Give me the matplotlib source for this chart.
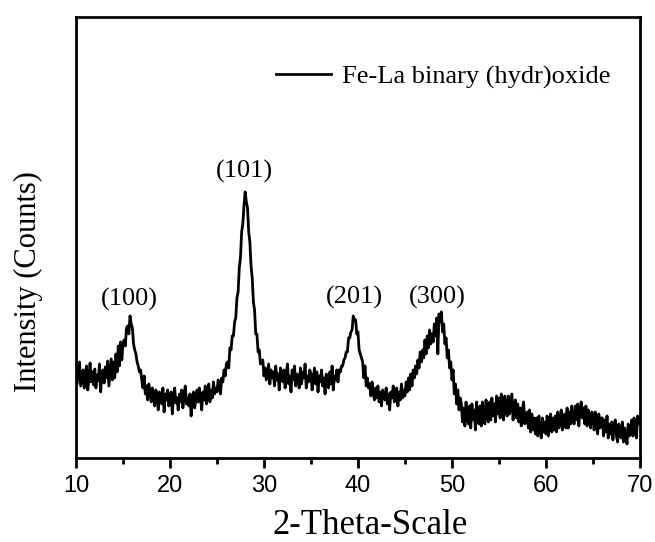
import numpy as np
import matplotlib
matplotlib.use("Agg")
import matplotlib.pyplot as plt

# 2-theta grid, 0.125 degree steps from 10 to 70
two_theta = np.arange(10, 70.001, 0.125)

# intensity (arbitrary counts), 8 values per degree
intensity = [
    90, 74, 85, 96, 72, 80, 88, 70,          # 10
    84, 92, 68, 79, 95, 76, 86, 73,          # 11
    89, 70, 83, 77, 94, 66, 82, 88,          # 12
    75, 91, 80, 97, 72, 86, 99, 78,          # 13
    96, 80, 104, 86, 112, 92, 116, 98,       # 14
    114, 118, 112, 130, 132, 124, 142, 134,  # 15
    130, 114, 108, 104, 96, 92, 86, 88,      # 16
    78, 70, 82, 64, 72, 58, 74, 66,          # 17
    56, 70, 60, 52, 68, 63, 48, 66,          # 18
    62, 54, 70, 46, 64, 58, 68, 52,          # 19
    57, 66, 44, 62, 70, 55, 60, 48,          # 20
    64, 56, 68, 50, 62, 72, 54, 60,          # 21
    52, 64, 42, 60, 66, 50, 58, 68,          # 22
    56, 70, 60, 48, 66, 58, 72, 54,          # 23
    62, 74, 56, 68, 60, 76, 64, 70,          # 24
    66, 78, 72, 64, 80, 76, 88, 82,          # 25
    94, 96, 90, 110, 108, 122, 122, 136,     # 26
    140, 160, 166, 190, 200, 226, 234, 252,  # 27
    266, 256, 250, 226, 216, 192, 180, 156,  # 28
    148, 124, 124, 106, 108, 94, 96, 98,     # 29
    82, 90, 78, 86, 94, 74, 88, 80,          # 30
    86, 72, 92, 78, 84, 68, 90, 80,          # 31
    76, 88, 70, 84, 94, 74, 82, 66,          # 32
    88, 78, 92, 72, 84, 80, 70, 90,          # 33
    74, 86, 80, 94, 70, 82, 76, 88,          # 34
    84, 68, 80, 90, 74, 86, 66, 82,          # 35
    76, 88, 72, 80, 64, 84, 78, 70,          # 36
    86, 74, 92, 68, 82, 78, 88, 76,          # 37
    88, 86, 92, 92, 98, 100, 106, 106,       # 38
    120, 120, 126, 128, 142, 138, 138, 124,  # 39
    126, 108, 104, 100, 96, 80, 92, 72,      # 40
    80, 70, 74, 62, 76, 66, 58, 70,          # 41
    60, 72, 56, 66, 52, 68, 62, 58,          # 42
    70, 54, 64, 48, 66, 60, 72, 56,          # 43
    62, 70, 52, 66, 58, 74, 60, 68,          # 44
    62, 76, 66, 80, 68, 84, 72, 88,          # 45
    80, 92, 84, 98, 90, 106, 96, 108,        # 46
    100, 118, 104, 122, 110, 128, 114, 124,  # 47
    116, 134, 122, 140, 104, 144, 136, 146,  # 48
    126, 134, 114, 120, 100, 108, 90, 96,    # 49
    78, 88, 64, 74, 54, 68, 48, 60,          # 50
    54, 36, 50, 32, 56, 40, 34, 52,          # 51
    30, 54, 38, 48, 28, 56, 40, 34,          # 52
    52, 32, 56, 40, 34, 58, 42, 36,          # 53
    56, 38, 60, 42, 54, 36, 62, 44,          # 54
    60, 40, 64, 46, 38, 62, 50, 42,          # 55
    62, 44, 54, 64, 38, 52, 58, 40,          # 56
    54, 36, 50, 32, 48, 56, 34, 42,          # 57
    46, 30, 48, 26, 44, 28, 40, 24,          # 58
    40, 22, 42, 28, 20, 40, 26, 36,          # 59
    24, 42, 22, 36, 44, 26, 40, 28,          # 60
    42, 26, 46, 30, 38, 48, 28, 40,          # 61
    44, 30, 50, 30, 46, 34, 52, 38,          # 62
    34, 52, 38, 54, 32, 48, 56, 40,          # 63
    50, 34, 52, 32, 48, 40, 30, 46,          # 64
    44, 28, 46, 32, 24, 44, 30, 40,          # 65
    40, 22, 38, 26, 42, 20, 34, 24,          # 66
    36, 18, 32, 38, 22, 16, 34, 26,          # 67
    20, 36, 16, 30, 24, 14, 34, 22,          # 68
    26, 38, 22, 40, 28, 20, 42, 34,          # 69
    40,                                      # 70
]

peak_labels = ["(100)", "(101)", "(201)", "(300)"]
peak_pos = [15.7, 27.9, 39.6, 48.4]
peak_top = [138, 266, 140, 140]

serif = "Liberation Serif"
sans = "Liberation Sans"

fig = plt.figure(figsize=(6.55, 5.42), dpi=100)
ax = fig.add_axes([0.116, 0.155, 0.861, 0.814])

ax.plot(two_theta, intensity, color="black", lw=2.0,
        label="Fe-La binary (hydr)oxide")

for lab, x, y in zip(peak_labels, peak_pos, peak_top):
    ax.text(x, y + 20, lab, ha="center", va="center",
            fontsize=19, family=serif)

ax.set_xlim(10, 70)
ax.set_ylim(0, 441)
ax.set_xticks(range(10, 71, 10))
ax.set_xticks(range(15, 70, 10), minor=True)
ax.set_yticks([])
ax.tick_params(axis="x", which="major", length=7, width=2, labelsize=17,
               pad=5)
ax.tick_params(axis="x", which="minor", length=4, width=2)
for lab in ax.get_xticklabels():
    lab.set_family(sans)
for s in ax.spines.values():
    s.set_linewidth(2)

ax.set_xlabel("2-Theta-Scale", fontsize=25, family=serif)
ax.xaxis.set_label_coords(0.521, -0.115)
ax.set_ylabel("Intensity (Counts)", fontsize=22, family=serif)
ax.yaxis.set_label_coords(-0.058, 0.40)

leg = ax.legend(loc="center right", bbox_to_anchor=(0.947, 0.864),
                frameon=False, prop={"family": serif, "size": 19},
                handlelength=2.1, handletextpad=0.4,
                borderpad=0, borderaxespad=0)

fig.savefig("out.png", dpi=100)
